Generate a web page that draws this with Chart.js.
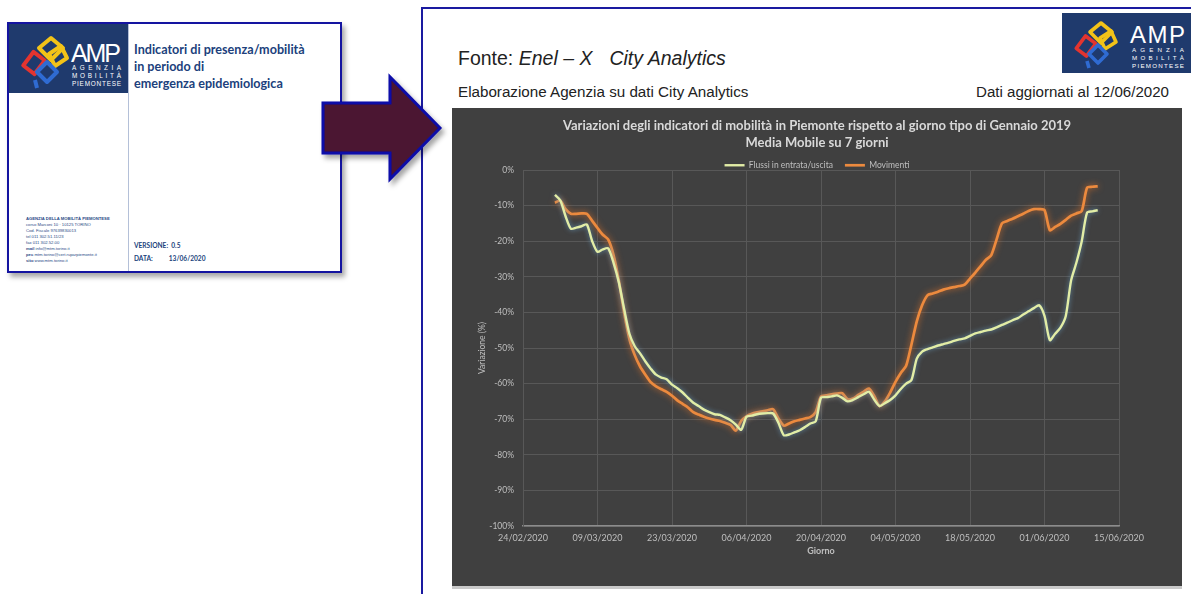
<!DOCTYPE html>
<html lang="it">
<head>
<meta charset="utf-8">
<title>Indicatori di mobilità – Piemonte</title>
<script src="https://cdn.jsdelivr.net/npm/chart.js@4.4.1/dist/chart.umd.min.js"></script>
<style>
  html, body { margin: 0; padding: 0; background: #ffffff; }
  body { width: 1191px; height: 594px; position: relative; overflow: hidden; font-family: "Liberation Sans", Arial, sans-serif; }
  .abs { position: absolute; }
  /* cover page thumbnail */
  #cover { left: 7px; top: 22px; width: 331px; height: 247px; border: 2px solid #1414a0; background: #fff;
           box-shadow: 3px 4px 5px rgba(0,0,0,0.35); }
  #coverBand { left: 0; top: 0; width: 119px; height: 69px; background: #1f3a6d; }
  #coverDivider { left: 119px; top: 0; width: 1px; height: 247px; background: #b4c0d8; }
  #coverTitle { left: 125px; top: 17px; font-family: Lato, "Open Sans", sans-serif; font-weight: 700; font-size: 12.6px;
                line-height: 17px; color: #203f7c; white-space: nowrap; }
  #coverAddr { left: 17px; top: 192px; font-family: "Liberation Sans", Arial, sans-serif; font-size: 4.2px; line-height: 6px;
               color: #2a4a86; white-space: nowrap; }
  #coverAddr b { font-weight: 700; }
  #coverVer { left: 125px; top: 215px; font-family: Lato, sans-serif; font-weight: 700; font-size: 6.6px; line-height: 12.5px;
              color: #203f7c; white-space: nowrap; }
  /* presentation frame */
  #frame { left: 421px; top: 7px; width: 800px; height: 620px; border: 2px solid #1a1aa0; background: #fff; }
  #fonte { left: 458px; top: 47px; font-size: 19.5px; color: #222; white-space: nowrap; }
  #fonte .gap { display: inline-block; width: 17px; }
  #elab { left: 458px; top: 83px; font-size: 15.2px; color: #222; white-space: nowrap; }
  #dati { right: 22px; top: 83px; font-size: 15.1px; color: #222; white-space: nowrap; }
  #panel { left: 452px; top: 108px; width: 730px; height: 478px; background: #404040; border-bottom: 3px solid #c9c9c9; }
  #panel canvas { display: block; }
</style>
</head>
<body>

<!-- cover page of the report -->
<div id="cover" class="abs">
  <div id="coverBand" class="abs">
    <svg width="119" height="69" viewBox="0 0 119 69">
      <g fill="none" stroke-width="4" stroke-linejoin="round">
        <path d="M14 40 L26 28 L36 38 L24 50 Z" stroke="#e3342f" transform="rotate(-8 25 39)"/>
        <path d="M30 24 L42 14 L54 24 L42 36 Z" stroke="#f3c318"/>
        <path d="M40 30 L52 22 L58 34 L46 42 Z" stroke="#f3c318"/>
        <path d="M28 48 L38 38 L48 48 L38 58 Z" stroke="#2f6bd2"/>
        <path d="M26 56 L28 64" stroke="#2f6bd2"/>
      </g>
      <text x="62" y="38" fill="#ffffff" font-family="Liberation Sans, Arial, sans-serif" font-size="25" textLength="50">AMP</text>
      <text x="63" y="46" fill="#ffffff" font-family="Liberation Sans, Arial, sans-serif" font-size="6.4" textLength="49">AGENZIA</text>
      <text x="63" y="54" fill="#ffffff" font-family="Liberation Sans, Arial, sans-serif" font-size="6.4" textLength="49">MOBILITÀ</text>
      <text x="63" y="62" fill="#ffffff" font-family="Liberation Sans, Arial, sans-serif" font-size="6.4" textLength="49">PIEMONTESE</text>
    </svg>
  </div>
  <div id="coverDivider" class="abs"></div>
  <div id="coverTitle" class="abs">Indicatori di presenza/mobilità<br>in periodo di<br>emergenza epidemiologica</div>
  <div id="coverAddr" class="abs"><b>AGENZIA DELLA MOBILITÀ PIEMONTESE</b><br>corso Marconi 10 · 10125 TORINO<br>Cod. Fiscale 97639830013<br>tel 011 302.51.11/23<br>fax 011 302.52.00<br><b>mail</b> info@mtm.torino.it<br><b>pec</b> mtm.torino@cert.ruparpiemonte.it<br><b>sito</b> www.mtm.torino.it</div>
  <div id="coverVer" class="abs">VERSIONE:&nbsp;&nbsp;0.5<br>DATA:&nbsp;&nbsp;&nbsp;&nbsp;&nbsp;&nbsp;&nbsp;&nbsp;&nbsp;&nbsp;13/06/2020</div>
</div>

<!-- slide with the chart -->
<div id="frame" class="abs"></div>
<div class="abs" style="left:1062px; top:13px; width:129px; height:60px; background:#1f3a6d;">
  <svg width="129" height="60" viewBox="0 0 129 60">
    <g fill="none" stroke-width="3.6" stroke-linejoin="round">
      <path d="M14 34 L25 23 L34 32 L23 43 Z" stroke="#e3342f" transform="rotate(-8 24 33)"/>
      <path d="M28 19 L39 10 L50 19 L39 30 Z" stroke="#f3c318"/>
      <path d="M38 25 L49 18 L54 29 L43 36 Z" stroke="#f3c318"/>
      <path d="M27 41 L36 32 L45 41 L36 50 Z" stroke="#2f6bd2"/>
      <path d="M25 48 L27 55" stroke="#2f6bd2"/>
    </g>
    <text x="68" y="30" fill="#ffffff" font-family="Liberation Sans, Arial, sans-serif" font-size="24" textLength="55">AMP</text>
    <text x="70" y="39" fill="#ffffff" font-family="Liberation Sans, Arial, sans-serif" font-size="6.2" textLength="52">AGENZIA</text>
    <text x="70" y="47" fill="#ffffff" font-family="Liberation Sans, Arial, sans-serif" font-size="6.2" textLength="52">MOBILITÀ</text>
    <text x="70" y="55" fill="#ffffff" font-family="Liberation Sans, Arial, sans-serif" font-size="6.2" textLength="52">PIEMONTESE</text>
  </svg>
</div>
<div id="fonte" class="abs">Fonte: <i>Enel – X<span class="gap"></span>City Analytics</i></div>
<div id="elab" class="abs">Elaborazione Agenzia su dati City Analytics</div>
<div id="dati" class="abs">Dati aggiornati al 12/06/2020</div>
<div id="panel" class="abs"><canvas id="chart" width="730" height="478"></canvas></div>

<!-- arrow pointing from the cover to the slide -->
<svg class="abs" style="left:0; top:0;" width="460" height="200">
  <defs>
    <filter id="sh" x="-20%" y="-20%" width="150%" height="150%">
      <feDropShadow dx="3" dy="4" stdDeviation="2.5" flood-color="#000" flood-opacity="0.35"/>
    </filter>
  </defs>
  <polygon points="323,103 390,103 390,77 440,128 390,179 390,153 323,153"
           fill="#4b1730" stroke="#0c0ca8" stroke-width="3" stroke-linejoin="miter" filter="url(#sh)"/>
</svg>

<script>
// Days counted from 24/02/2020; the series start on 01/03/2020 (day 6).
const xTickLabels = ['24/02/2020', '09/03/2020', '23/03/2020', '06/04/2020', '20/04/2020',
                     '04/05/2020', '18/05/2020', '01/06/2020', '15/06/2020'];
const yTicks = [0, -10, -20, -30, -40, -50, -60, -70, -80, -90, -100];
const firstDay = 6;

// Variazione % – Flussi in entrata/uscita (media mobile 7 giorni)
const flussi = [
  -7.0, -8.5, -13.0, -16.5, -16.2, -15.8, -15.3, -20.0, -23.0, -22.3,
  -22.0, -26.0, -31.5, -39.0, -46.0, -49.5, -51.5, -53.8, -55.8, -57.5,
  -58.3, -58.8, -60.3, -61.3, -62.5, -64.0, -65.4, -66.3, -67.3, -68.0,
  -68.6, -68.8, -69.5, -70.3, -71.5, -73.0, -69.3, -69.0, -68.6, -68.4,
  -68.3, -68.4, -71.0, -74.5, -74.3, -73.7, -73.1, -72.2, -71.2, -70.6,
  -64.0, -63.8, -63.6, -63.3, -64.0, -65.0, -64.6, -63.8, -63.0, -62.3,
  -64.5, -66.3, -65.5, -64.6, -63.3, -61.5, -60.0, -59.0, -53.0, -51.0,
  -50.3, -49.8, -49.3, -48.9, -48.5, -48.0, -47.6, -47.3, -46.6, -45.9,
  -45.5, -45.1, -44.8, -44.2, -43.5, -42.9, -42.2, -41.6, -40.6, -39.7,
  -38.8, -38.0, -41.0, -47.8, -46.0, -44.3, -41.0, -31.0, -26.0, -20.0,
  -12.0, -11.6, -11.3
];

// Variazione % – Movimenti (media mobile 7 giorni)
const movimenti = [
  -9.2, -8.6, -11.0, -12.3, -12.3, -12.2, -12.3, -14.3, -16.3, -18.2,
  -19.5, -23.8, -31.0, -40.0, -47.5, -52.0, -55.2, -57.5, -59.6, -60.8,
  -61.6, -62.3, -63.4, -64.7, -65.7, -66.7, -68.0, -68.7, -69.3, -69.8,
  -70.2, -70.5, -71.0, -71.6, -73.2, -70.5, -69.2, -68.5, -68.1, -67.8,
  -67.5, -67.2, -69.8, -71.8, -71.2, -70.6, -70.2, -69.8, -69.4, -68.0,
  -63.6, -63.3, -63.0, -62.8, -62.7, -64.4, -64.2, -63.2, -62.3, -61.4,
  -63.5, -66.3, -65.0, -62.5, -59.5, -57.0, -55.0, -49.0, -42.5, -38.0,
  -35.2, -34.7, -34.2, -33.6, -33.2, -32.9, -32.6, -32.2, -30.5, -28.8,
  -27.0, -25.2, -23.9, -19.5, -15.0, -14.3, -13.7, -13.0, -12.3, -11.5,
  -11.0, -11.0, -11.3, -16.9, -16.0, -15.1, -14.0, -12.8, -12.2, -11.5,
  -5.0, -4.7, -4.6
];

const toPoints = (values) => values.map((v, i) => ({ x: firstDay + i, y: v }));

const FONT = 'Lato, "Open Sans", sans-serif';
const TEXT = '#bfbfbf';
const GRID = '#585858';
const LEGEND_HEIGHT = 21;

// soft glow under each line
const glowPlugin = {
  id: 'glow',
  beforeDatasetDraw(chart, args) {
    const ds = chart.data.datasets[args.index];
    chart.ctx.save();
    chart.ctx.shadowColor = ds.glowColor;
    chart.ctx.shadowBlur = ds.glowBlur;
  },
  afterDatasetDraw(chart) {
    chart.ctx.restore();
  }
};

// keep the legend row compact while leaving wide gaps between its items
const compactLegend = {
  id: 'compactLegend',
  beforeUpdate(chart) {
    const lg = chart.legend;
    if (lg && !lg.__compact) {
      const fit = lg.fit;
      lg.fit = function () { fit.call(this); this.height = LEGEND_HEIGHT; };
      lg.__compact = true;
    }
  }
};

new Chart(document.getElementById('chart'), {
  type: 'line',
  data: {
    datasets: [
      {
        label: 'Flussi in entrata/uscita',
        data: toPoints(flussi),
        borderColor: '#e2eda6',
        backgroundColor: '#e2eda6',
        borderWidth: 2.4,
        glowColor: 'rgba(110,170,210,0.75)',
        glowBlur: 5,
        pointStyle: 'line'
      },
      {
        label: 'Movimenti',
        data: toPoints(movimenti),
        borderColor: '#ec8a3e',
        backgroundColor: '#ec8a3e',
        borderWidth: 2.7,
        glowColor: 'rgba(240,120,40,0.8)',
        glowBlur: 6,
        pointStyle: 'line'
      }
    ]
  },
  options: {
    responsive: false,
    animation: false,
    layout: { padding: 0 },
    elements: {
      point: { radius: 0, hoverRadius: 0 },
      line: { tension: 0.25, capBezierPoints: true }
    },
    plugins: {
      title: {
        display: true,
        text: ['Variazioni degli indicatori di mobilità in Piemonte rispetto al giorno tipo di Gennaio 2019',
               'Media Mobile su 7 giorni'],
        color: '#d9d9d9',
        font: { family: FONT, size: 13, weight: 'bold', lineHeight: 17 / 13 },
        padding: { top: 9, bottom: -2 }
      },
      legend: {
        display: true,
        labels: {
          color: TEXT,
          font: { family: FONT, size: 8.5 },
          usePointStyle: true,
          pointStyleWidth: 20,
          boxHeight: 8.5,
          padding: 12
        }
      },
      tooltip: { enabled: false }
    },
    scales: {
      x: {
        type: 'linear',
        min: 0,
        max: 112,
        afterFit: (s) => { s.height = 60; },
        afterBuildTicks: (s) => { s.ticks = xTickLabels.map((_, i) => ({ value: i * 14 })); },
        ticks: {
          color: TEXT,
          font: { family: FONT, size: 9 },
          padding: 7,
          maxRotation: 0,
          callback: (v) => xTickLabels[Math.round(v / 14)]
        },
        grid: { color: GRID, lineWidth: 1, drawTicks: false },
        border: { color: '#8c8c8c', width: 1.5 },
        title: {
          display: true,
          text: 'Giorno',
          color: TEXT,
          font: { family: FONT, size: 9, weight: 'bold' },
          padding: { top: 4, bottom: 30 }
        }
      },
      y: {
        min: -100,
        max: 0,
        afterFit: (s) => { s.width = 71; },
        afterBuildTicks: (s) => { s.ticks = yTicks.map((v) => ({ value: v })); },
        ticks: {
          color: TEXT,
          font: { family: FONT, size: 8.5 },
          padding: 9,
          callback: (v) => v + '%'
        },
        grid: { color: GRID, lineWidth: 1, drawTicks: false },
        border: { color: GRID, width: 1 },
        title: {
          display: true,
          text: 'Variazione (%)',
          color: TEXT,
          font: { family: FONT, size: 8.5 },
          padding: { top: 25, bottom: 0 }
        }
      },
      // empty margin on the right of the plot area
      yMargin: {
        position: 'right',
        min: -100,
        max: 0,
        afterFit: (s) => { s.width = 63; },
        ticks: { display: false },
        grid: { display: false, drawOnChartArea: false },
        border: { display: false },
        title: { display: false }
      }
    }
  },
  plugins: [glowPlugin, compactLegend]
});
</script>
</body>
</html>
